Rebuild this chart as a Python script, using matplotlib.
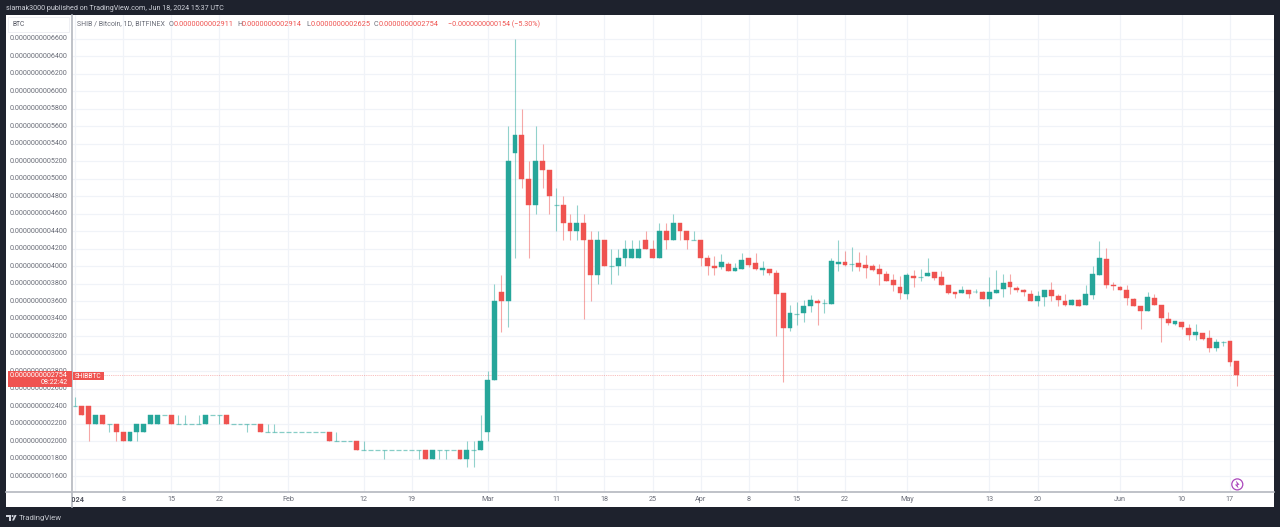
import matplotlib
matplotlib.use("Agg")
import matplotlib.pyplot as plt
from matplotlib.lines import Line2D
from matplotlib.patches import Rectangle, Circle, Polygon
from matplotlib.transforms import IdentityTransform

W, H = 1280, 527

# Daily candles from 2024-01-01, price in units of 1e-13 BTC
opens = [2400,2400,2400,2200,2300,2200,2200,2100,2000,2100,2100,2200,2200,2300,2300,2200,2200,2200,2200,2200,2300,2300,2300,2200,2200,2200,2200,2200,2100,2100,
 2100,2100,2100,2100,2100,2100,2100,2100,2000,2000,2000,2000,1900,1900,1900,1900,1900,1900,1900,1900,1900,1900,1800,1900,1900,1900,1900,1800,1900,1900,
 2100,2700,3700,3600,5300,5500,5000,4700,5200,5100,4700,4700,4500,4400,4500,4300,3900,4300,4000,4000,4100,4100,4100,4300,4200,4100,4400,4300,4500,4400,
 4300,4300,4100,4000,3990,4025,3940,3965,4090,4040,3960,3970,3925,3690,3290,3450,3460,3550,3600,3585,3570,4025,4050,4025,4040,4010,4000,3965,3910,3840,
 3760,3680,3890,3880,3890,3930,3875,3780,3700,3690,3730,3700,3700,3630,3695,3740,3825,3750,3730,3685,3600,3650,3725,3665,3605,3560,3615,3560,3670,3900,
 4080,3785,3765,3730,3625,3545,3490,3640,3555,3400,3335,3365,3290,3210,3240,3175,3060,3135,3140,2911]
highs = [2500,2400,2400,2300,2300,2200,2200,2100,2100,2200,2200,2300,2300,2300,2300,2300,2300,2200,2300,2300,2300,2300,2300,2200,2200,2200,2200,2200,2200,2200,
 2100,2100,2100,2100,2100,2100,2100,2100,2100,2000,2000,2000,2000,1900,1900,1900,1900,1900,1900,1900,1900,1900,1900,1900,1900,1900,1900,2000,2000,2300,
 2800,3800,3900,5600,6600,5800,5200,5600,5400,5100,4900,4800,4600,4700,4600,4400,4400,4300,4200,4200,4300,4300,4300,4400,4300,4500,4500,4600,4500,4400,
 4400,4300,4130,4120,4140,4050,4040,4150,4095,4150,4060,3970,3955,3690,3560,3590,3610,3670,3620,3625,4090,4300,4180,4215,4160,4130,4030,4025,3940,3910,
 3890,3920,3955,3965,4100,3930,3940,3780,3700,3775,3730,3745,3720,3880,3955,3915,3910,3770,3745,3730,3715,3730,3820,3680,3680,3625,3625,3785,4000,4290,
 4210,3825,3775,3780,3640,3545,3710,3680,3560,3480,3370,3365,3335,3335,3240,3270,3165,3145,3140,2914]
lows = [2400,2300,2000,2200,2200,2100,2000,2000,2000,2000,2100,2200,2200,2300,2200,2200,2200,2200,2200,2200,2300,2200,2200,2200,2200,2100,2200,2100,2100,2100,
 2100,2100,2100,2100,2100,2100,2100,2000,2000,2000,2000,1900,1900,1900,1900,1800,1900,1900,1900,1900,1800,1800,1800,1800,1800,1900,1800,1700,1700,1900,
 2000,2700,3250,3300,4100,4900,4100,4600,4900,4600,4400,4300,4300,4300,3400,3600,3800,4000,3800,3900,4000,4100,4100,4200,4100,4100,4200,4300,4300,4200,
 4300,4000,3900,3900,3965,3940,3940,3965,3990,3960,3900,3900,3200,2670,3260,3330,3360,3475,3330,3470,3570,3950,4000,3950,3950,3870,3950,3790,3835,3715,
 3625,3625,3765,3835,3890,3840,3780,3680,3640,3690,3640,3695,3630,3545,3695,3650,3680,3710,3655,3600,3550,3545,3600,3540,3540,3560,3540,3560,3625,3900,
 3750,3730,3730,3560,3550,3280,3490,3560,3130,3325,3330,3280,3160,3160,3160,3020,3030,3085,2860,2625]
closes = [2400,2300,2200,2300,2200,2200,2100,2000,2100,2200,2200,2300,2300,2300,2200,2200,2200,2200,2200,2300,2300,2300,2200,2200,2200,2200,2200,2100,2100,2100,
 2100,2100,2100,2100,2100,2100,2100,2000,2000,2000,2000,1900,1900,1900,1900,1900,1900,1900,1900,1900,1900,1800,1900,1900,1900,1900,1800,1900,1900,2000,
 2700,3600,3600,5200,5500,5000,4700,5200,5100,4800,4700,4500,4400,4500,4300,3900,4300,4000,4000,4100,4200,4200,4200,4200,4100,4400,4300,4500,4400,4300,
 4300,4100,4000,3985,4045,3940,3980,4070,4015,3970,3985,3925,3680,3290,3460,3450,3550,3610,3585,3585,4055,4050,4015,4025,3990,3985,3955,3915,3835,3780,
 3695,3900,3865,3880,3925,3860,3780,3690,3685,3730,3680,3710,3630,3710,3730,3810,3760,3730,3700,3600,3655,3730,3655,3615,3560,3610,3545,3680,3910,4090,
 3790,3775,3730,3635,3550,3485,3650,3560,3410,3350,3370,3300,3210,3250,3165,3060,3130,3135,2908,2754]
days = list(range(len(closes)))

tick_days = [0,7,14,21,31,42,49,60,70,77,84,91,98,105,112,121,133,140,152,161,168]
tick_labels = ['2024','8','15','22','Feb','12','19','Mar','11','18','25','Apr','8','15','22','May','13','20','Jun','10','17']
price_ticks = list(range(1600, 6601, 200))
last_price = 2754

UP, DOWN = '#26a69a', '#ef5350'
DARK = '#1e222d'
PIX = IdentityTransform()

def px_x(p): return p / W
def px_y(p): return 1 - p / H

plt.rcParams['font.family'] = ['Roboto', 'DejaVu Sans']
fig = plt.figure(figsize=(W/100, H/100), dpi=100, facecolor=DARK)

# white panel
fig.patches.append(Rectangle((6, H-507), 1268, 492, transform=PIX, facecolor='white', edgecolor='none', zorder=0))

L, R, T, B = 72, 1274, 15, 491.7
ax = fig.add_axes([px_x(L), px_y(B), (R-L)/W, (B-T)/H], facecolor='white', zorder=2)
X0, XS = 75, 6.875
Y0, YS = 476, 0.0874
ax.set_xlim((L-X0)/XS, (R-X0)/XS)
ax.set_ylim(1600 + (Y0-B)/YS, 1600 + (Y0-T)/YS)

ax.set_xticks(tick_days)
ax.set_xticklabels([])
ax.set_yticks(price_ticks)
ax.set_yticklabels([])
ax.tick_params(length=0)
ax.grid(True, color='#f0f3f8', linewidth=0.9, zorder=0)
ax.set_axisbelow(True)
for s in ax.spines.values():
    s.set_visible(False)

# candles
for i in days:
    o, h, l, c = opens[i], highs[i], lows[i], closes[i]
    col = UP if c >= o else DOWN
    ax.vlines(i, l, h, color=col, linewidth=0.8, alpha=0.5, zorder=3)
    if o == c:
        ax.hlines(o, i-0.36, i+0.36, color=col, linewidth=0.9, alpha=0.55, zorder=3)
    else:
        ax.bar(i, abs(c-o), bottom=min(o, c), width=0.72, color=col,
               edgecolor=col, linewidth=0.3, zorder=4)

# last price line
ax.axhline(last_price, color=DOWN, linewidth=0.6, linestyle=(0, (1, 1.2)), alpha=0.5, zorder=2)

# panel separators
fig.add_artist(Line2D([6, 1274], [H-B, H-B], transform=PIX, color='#b4b7bf', linewidth=1.2, zorder=3))
fig.add_artist(Line2D([L-0.3, L-0.3], [H-15, H-507], transform=PIX, color='#b4b7bf', linewidth=1.2, zorder=3))

# text helper in pixel coordinates
def t(x, y, s, color='#50535e', size=5.0, ha='left', va='center', z=6, **kw):
    return fig.text(px_x(x), px_y(y), s, color=color, fontsize=size, ha=ha, va=va, zorder=z, **kw)

# y labels
for p in price_ticks:
    t(67.5, Y0 - (p-1600)*YS, '0.' + format(p, '013d'), color='#6a6d78', size=5.13, ha='right', z=4)

# x labels
for d, s in zip(tick_days, tick_labels):
    x = X0 + XS*d
    if s == '2024':
        tx = t(x+1, 499.5, s, color='#50535e', size=5.2, ha='center', fontweight='bold')
        tx.set_clip_path(Rectangle((L, 0), W, H, transform=PIX))
    else:
        t(x, 499.5, s, color='#6a6d78', size=5.2, ha='center')

# header
t(5.7, 9, 'siamak3000 published on TradingView.com, Jun 18, 2024 15:37 UTC', color='#d1d4dc', size=5.13)
t(77, 24, 'SHIB / Bitcoin, 1D, BITFINEX', color='#6a6d78', size=5.03)
for xl, lab, xv, val in [(169, 'O', 174, '0.0000000002911'), (237, 'H', 242, '0.0000000002914'),
                         (306, 'L', 310.5, '0.0000000002625'), (374, 'C', 378.6, '0.0000000002754')]:
    t(xl, 24, lab, color='#6a6d78', size=5.2)
    t(xv, 24, val, color=DOWN, size=5.33)
t(447.6, 24, '\u22120.0000000000154 (\u22125.30%)', color=DOWN, size=5.15)

# BTC box
fig.patches.append(Rectangle((8, H-32.3), 61, 15, transform=PIX, facecolor='white',
                             edgecolor='#eceef2', linewidth=0.6, zorder=5))
t(18.8, 24.8, 'BTC', color='#50535e', size=4.8, ha='center')

# price tags
fig.patches.append(Rectangle((8, H-387), 64, 16, transform=PIX, facecolor=DOWN, edgecolor='none', zorder=5))
t(67.5, 375.4, '0.' + format(last_price, '013d'), color='white', size=5.13, ha='right')
t(67.5, 382.5, '08:22:42', color='white', size=5.13, ha='right')
fig.patches.append(Rectangle((73, H-380), 31, 8.2, transform=PIX, facecolor=DOWN, edgecolor='none', zorder=5))
t(88.5, 376, 'SHIBBTC', color='white', size=4.8, ha='center')

# lightning mark
fig.patches.append(Circle((1237.3, H-484.4), 5.5, transform=PIX, facecolor='none',
                          edgecolor='#ab47bc', linewidth=0.9, zorder=7))
fig.patches.append(Polygon([(1238.6, H-488.6), (1234.9, H-484.6), (1237, H-484.4), (1235.8, H-480.4), (1239.6, H-484.8), (1237.5, H-484.9)],
                           closed=True, transform=PIX, facecolor='#ab47bc', edgecolor='none', zorder=7))

# footer
t(19, 517.8, 'TradingView', color='#c4c7ce', size=5.55)
for pts in ([(6, H-515), (11, H-515), (11, H-520.5), (9, H-520.5), (9, H-517), (6, H-517)],
            [(12, H-520.5), (14.6, H-515), (16.6, H-515), (14, H-520.5)]):
    fig.patches.append(Polygon(pts, closed=True, transform=PIX, facecolor='#d1d4dc', edgecolor='none', zorder=7))
fig.patches.append(Circle((12.6, H-516), 1.0, transform=PIX, facecolor='#d1d4dc', edgecolor='none', zorder=7))

fig.savefig('out.png', dpi=100, facecolor=DARK)
